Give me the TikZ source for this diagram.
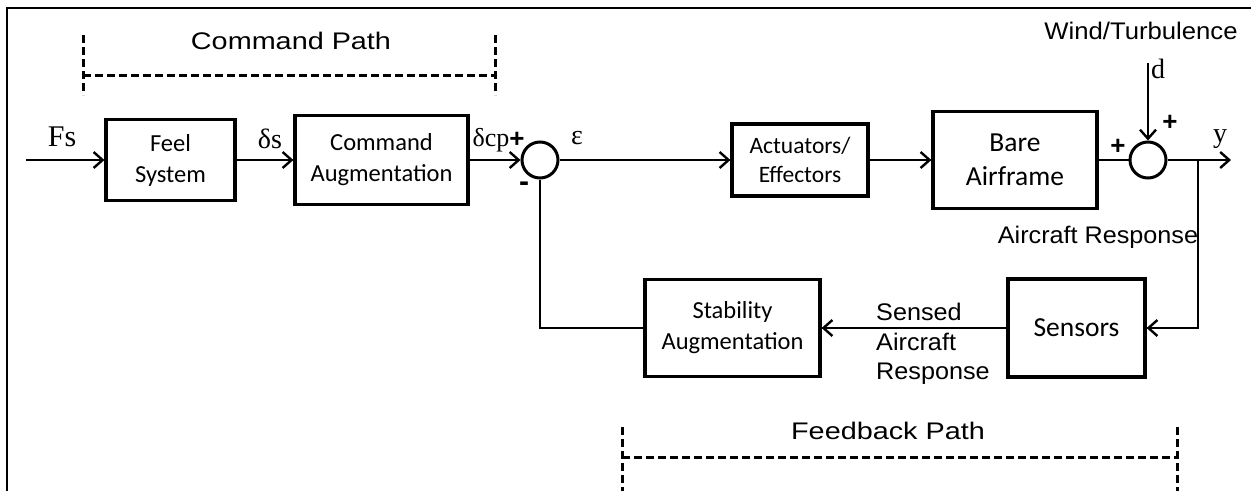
\documentclass[tikz,border=0pt]{standalone}
\usepackage{fontspec}
\usepackage{graphicx}
\usetikzlibrary{arrows.meta}
\newfontfamily\arialf{Liberation Sans}
\newfontfamily\calf{Carlito}
\newfontfamily\serf{Liberation Serif}
\newcommand{\wide}[1]{\scalebox{1.2}[1]{#1}}

\begin{document}
\begin{tikzpicture}[x=1pt,y=-1pt,
  box/.style={draw, line width=3.2pt, inner sep=0pt, align=center,
    font=\calf\fontsize{24.5}{31}\selectfont},
  bigbox/.style={box, font=\calf\fontsize{27.5}{34}\selectfont},
  sumj/.style={draw, circle, line width=3pt, minimum size=36pt, inner sep=0pt},
  wire/.style={line width=2.6pt},
  arr/.style={wire, -{Straight Barb[length=9pt,width=16pt,line width=2.4pt]}},
  bracket/.style={line width=3pt, dash pattern=on 8pt off 4pt},
  lbl/.style={inner sep=0pt, font=\arialf\fontsize{24}{29.5}\selectfont},
  sym/.style={inner sep=0pt, font=\serf\fontsize{28}{32}\selectfont},
  sgn/.style={inner sep=0pt, font=\arialf\bfseries\fontsize{26}{30}\selectfont}]

\useasboundingbox (0,0) rectangle (1251,491);
\fill[white] (0,0) rectangle (1251,491);

% outer frame (top and left edges)
\draw[line width=2.6pt] (7,491) -- (7,8) -- (1251,8);

% blocks
\node[box, minimum width=129pt, minimum height=81pt] (feel) at (170.5,160) {Feel\\System};
\node[box, minimum width=173pt, minimum height=89pt] (cmd) at (381.5,160) {Command\\Augmentation};
\node[sumj] (s1) at (540,160) {};
\node[box, minimum width=136pt, minimum height=72pt, font=\calf\fontsize{23.5}{29}\selectfont] (act) at (800,160) {Actuators/\\Effectors};
\node[bigbox, minimum width=164pt, minimum height=97pt] (bare) at (1015,160) {Bare\\Airframe};
\node[sumj] (s2) at (1148,160) {};
\node[bigbox, minimum width=137pt, minimum height=98pt] (sens) at (1076.5,328) {Sensors};
\node[box, minimum width=175pt, minimum height=97pt] (stab) at (732.5,328) {Stability\\Augmentation};

\coordinate (in) at (26,160);
\coordinate (out) at (1231,160);
\coordinate (tap) at (1198,160);
\coordinate (dist) at (1148,63);

% forward path
\draw[arr] (in) -- (feel);
\draw[arr] (feel) -- (cmd);
\draw[arr] (cmd) -- (s1);
\draw[arr] (s1) -- (act);
\draw[arr] (act) -- (bare);
\draw[wire] (bare) -- (s2);
\draw[arr] (s2) -- (out);
\draw[arr] (dist) -- (s2);

% feedback path
\draw[arr] (tap) |- (sens);
\draw[arr] (sens) -- (stab);
\draw[wire] (stab.west) -| (s1.south);

% signal labels
\node[sym, font=\serf\fontsize{30}{34}\selectfont] at (62,137) {Fs};
\node[sym] at (270,139) {δs};
\node[sym, font=\serf\fontsize{26}{30}\selectfont] at (491,140) {δcp};
\node[sym] at (577,138) {ε};
\node[sym] at (1158,69) {d};
\node[sym] at (1220,139) {y};

% summing signs
\node[sgn] at (517,140) {+};
\node[sgn, font=\arialf\bfseries\fontsize{30}{34}\selectfont] at (524,187) {-};
\node[sgn] at (1118,147) {+};
\node[sgn] at (1170,123) {+};

% text labels
\node[lbl] at (1141,31) {\scalebox{1.07}[1]{Wind/Turbulence}};
\node[lbl] at (1098,237) {\scalebox{1.05}[1]{Aircraft Response}};
\node[lbl, anchor=west, align=left] at (876,344) {\scalebox{1.05}[1]{Sensed}\\\scalebox{1.05}[1]{Aircraft}\\\scalebox{1.05}[1]{Response}};

% command path bracket
\node[lbl] at (291,41) {\wide{Command Path}};
\draw[bracket] (83,35) -- (83,95);
\draw[bracket] (495,35) -- (495,95);
\draw[bracket] (83,75) -- (495,75);

% feedback path bracket
\node[lbl] at (888,431) {\wide{Feedback Path}};
\draw[bracket] (622,427) -- (622,491);
\draw[bracket] (1177,427) -- (1177,491);
\draw[bracket] (622,457) -- (1177,457);
\end{tikzpicture}
\end{document}
